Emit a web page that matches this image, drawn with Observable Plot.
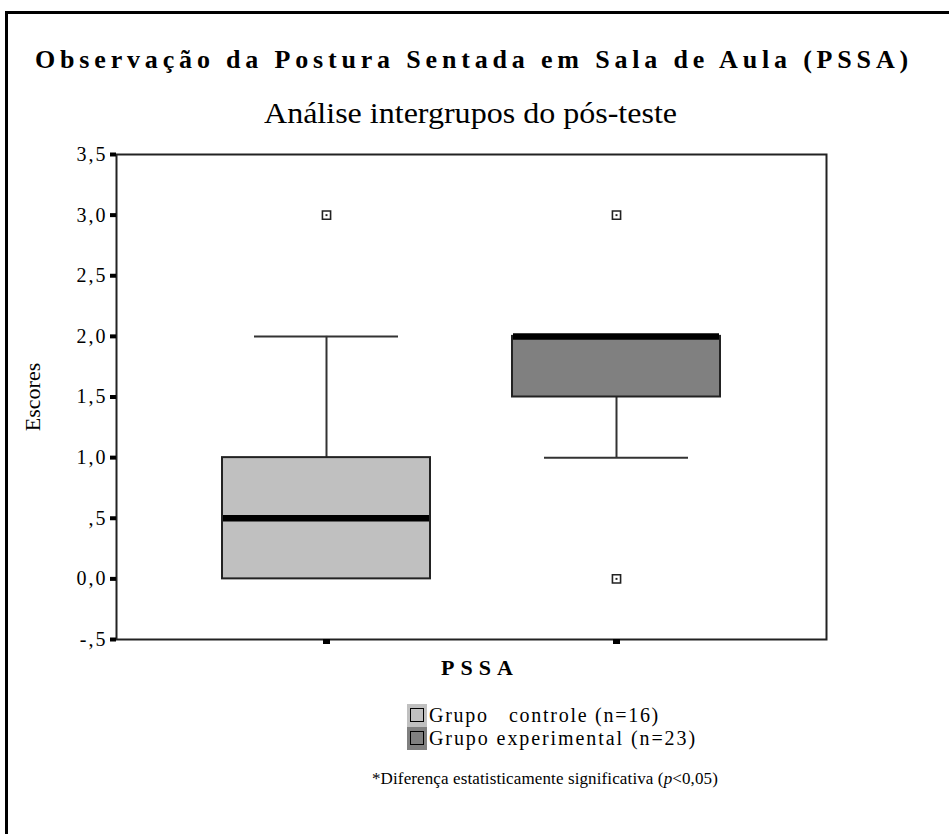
<!DOCTYPE html>
<html>
<head>
<meta charset="utf-8">
<script src="https://cdn.jsdelivr.net/npm/d3@7"></script>
<script src="https://cdn.jsdelivr.net/npm/@observablehq/plot@0.6"></script>
<style>
  html, body { margin: 0; padding: 0; background: #fff; }
  #wrap { position: relative; width: 949px; height: 834px; overflow: hidden; background: #fff; font-family: "Liberation Serif", serif; color: #000; }
  #border { position: absolute; left: 5px; top: 11px; width: 980px; height: 900px; border: 3px solid #000; box-sizing: border-box; z-index: 2; pointer-events: none; }
  .t { position: absolute; white-space: nowrap; line-height: 1; transform-origin: 0 50%; }
  #chart { position: absolute; left: 0; top: 130px; }
  #chart g[aria-label="y-axis tick label"] text { letter-spacing: 2px; }
  .sw { position: absolute; width: 20px; }
  .sw div { position: absolute; left: 3px; top: 4px; width: 12px; height: 12px; border: 1.5px solid #000; }
</style>
</head>
<body>
<div id="wrap">
  <div id="border"></div>
</div>
<script>
// ---- data ----
const groupKeys = ["controle", "experimental"];
const legendLabels = ["Grupo\u00a0\u00a0 controle (n=16)", "Grupo experimental (n=23)"];
const groupFills = ["#c0c0c0", "#808080"];
const q1Values = [0, 1.5];
const medianValues = [0.5, 2];
const q3Values = [1, 2];
const whiskerLow = [0, 1];
const whiskerHigh = [2, 2];
const outlierGroups = ["controle", "experimental", "experimental"];
const outlierValues = [3, 3, 0];
const yTickValues = [3.5, 3, 2.5, 2, 1.5, 1, 0.5, 0, -0.5];
const yTickLabels = ["3,5", "3,0", "2,5", "2,0", "1,5", "1,0", ",5", "0,0", "-,5"];
const titleText = "Observação da Postura Sentada em Sala de Aula (PSSA)";
const subtitleText = "Análise intergrupos do pós-teste";
const xLabelText = "PSSA";
const yLabelText = "Escores";
const footnoteHTML = "*Diferença estatisticamente significativa (<i>p</i>&lt;0,05)";

const boxes = groupKeys.map((k, i) => ({
  key: k, q1: q1Values[i], med: medianValues[i], q3: q3Values[i], lo: whiskerLow[i], hi: whiskerHigh[i]
}));
const outliers = outlierGroups.map((k, i) => ({key: k, value: outlierValues[i]}));

const wrap = document.getElementById("wrap");

// place a text; fit its width either by letter-spacing or by horizontal scaling
function place(html, opts) {
  const el = document.createElement("div");
  el.className = "t";
  el.innerHTML = html;
  el.style.fontSize = opts.size + "px";
  if (opts.weight) el.style.fontWeight = opts.weight;
  wrap.appendChild(el);
  const n = el.textContent.length;
  let w = el.getBoundingClientRect().width;
  const h = el.getBoundingClientRect().height;
  if (opts.width) {
    if (opts.mode === "scale") {
      el.style.transform = "scaleX(" + (opts.width / w) + ")";
    } else {
      el.style.letterSpacing = ((opts.width - w) / n) + "px";
    }
    w = opts.width;
  }
  const left = opts.cx != null ? opts.cx - w / 2 : opts.left;
  el.style.left = left + "px";
  el.style.top = (opts.cy - h / 2) + "px";
  return el;
}

// titles
place(titleText, {size: 26, weight: "bold", cx: 474, cy: 60, width: 878});
place(subtitleText, {size: 29, cx: 470, cy: 113, width: 413, mode: "scale"});

// chart
const chart = Plot.plot({
  width: 949,
  height: 560,
  marginTop: 24,
  marginBottom: 51,
  marginLeft: 116,
  marginRight: 123,
  x: {type: "band", domain: groupKeys, paddingInner: 0.282, paddingOuter: 0.361, axis: null},
  y: {domain: [-0.5, 3.5], axis: null},
  color: {domain: groupKeys, range: groupFills},
  style: {fontFamily: "Liberation Serif", background: "none", color: "black", overflow: "visible"},
  marks: [
    Plot.ruleX(boxes.filter(d => d.hi > d.q3), {x: "key", y1: "q3", y2: "hi", stroke: "#333", strokeWidth: 2}),
    Plot.ruleX(boxes.filter(d => d.lo < d.q1), {x: "key", y1: "q1", y2: "lo", stroke: "#333", strokeWidth: 2}),
    Plot.tickY(boxes.filter(d => d.hi > d.q3), {x: "key", y: "hi", inset: 32, stroke: "#333", strokeWidth: 2}),
    Plot.tickY(boxes.filter(d => d.lo < d.q1), {x: "key", y: "lo", inset: 32, stroke: "#333", strokeWidth: 2}),
    Plot.barY(boxes, {x: "key", y1: "q1", y2: "q3", fill: "key", stroke: "#222", strokeWidth: 2}),
    Plot.tickY(boxes, {x: "key", y: "med", stroke: "#000", strokeWidth: 6.5, inset: 1}),
    Plot.dot(outliers, {x: "key", y: "value", symbol: "square", r: 4.6, fill: "#fff", stroke: "#222", strokeWidth: 1.6}),
    Plot.dot(outliers, {x: "key", y: "value", symbol: "square", r: 1.1, fill: "#222"}),
    Plot.frame({stroke: "#222", strokeWidth: 2}),
    Plot.axisY({ticks: yTickValues, tickFormat: d => yTickLabels[yTickValues.indexOf(d)], tickSize: 6, strokeWidth: 4, tickPadding: 3, fontSize: 20, label: null, stroke: "#000"}),
    Plot.axisX({tickSize: 5, strokeWidth: 7, tickFormat: () => "", label: null, stroke: "#000"}),
    Plot.text([yLabelText], {frameAnchor: "left", dx: -84, rotate: -90, textAnchor: "middle", fontSize: 22, fill: "#000"})
  ]
});
chart.id = "chart";
wrap.appendChild(chart);

// x label
place(xLabelText, {size: 22, weight: "bold", cx: 480, cy: 668, width: 78});

// legend
const rowsCy = [715, 738];
groupKeys.forEach((k, i) => {
  const sw = document.createElement("div");
  sw.className = "sw";
  sw.style.left = "407px";
  sw.style.top = (rowsCy[i] - 11.5) + "px";
  sw.style.height = "23px";
  sw.style.background = groupFills[i];
  sw.innerHTML = "<div></div>";
  wrap.appendChild(sw);
  place(legendLabels[i], {size: 20, left: 429, cy: rowsCy[i], width: [231, 268][i]});
});

// footnote
place(footnoteHTML, {size: 17, left: 372, cy: 778, width: 346});
</script>
</body>
</html>
